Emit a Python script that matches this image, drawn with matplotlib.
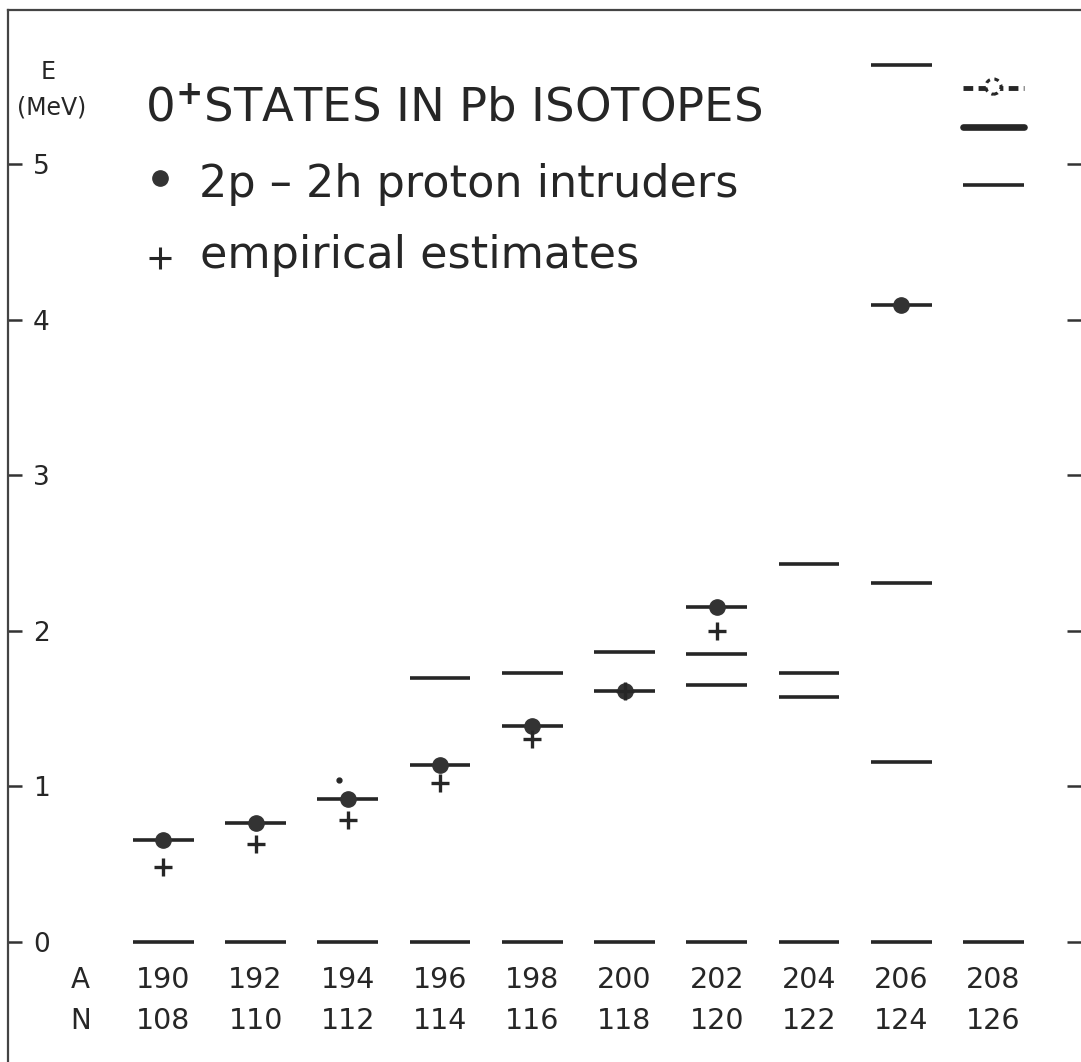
import matplotlib.pyplot as plt

# isotopes
mass_A = [190, 192, 194, 196, 198, 200, 202, 204, 206, 208]
neutron_N = [108, 110, 112, 114, 116, 118, 120, 122, 124, 126]

# known 0+ levels (MeV)
level_A = [190, 190, 192, 192, 194, 194, 196, 196, 196, 198, 198, 198,
           200, 200, 200, 202, 202, 202, 202, 204, 204, 204, 204,
           206, 206, 206, 206, 206, 208, 208]
level_E = [0.0, 0.656, 0.0, 0.765, 0.0, 0.919, 0.0, 1.138, 1.697, 0.0, 1.388, 1.729,
           0.0, 1.613, 1.864, 0.0, 1.652, 1.851, 2.153, 0.0, 1.575, 1.729, 2.429,
           0.0, 1.157, 2.307, 4.094, 5.636, 0.0, 4.865]
strong_A = [208]
strong_E = [5.238]
tentative_A = [208]
tentative_E = [5.488]

# 2p-2h proton intruders
intruder_A = [190, 192, 194, 196, 198, 200, 202, 206]
intruder_E = [0.656, 0.765, 0.919, 1.138, 1.388, 1.613, 2.153, 4.094]

# empirical estimates
estimate_A = [190, 192, 194, 196, 198, 200, 202]
estimate_E = [0.482, 0.630, 0.784, 1.022, 1.305, 1.613, 1.999]

speck_A = [193.8]
speck_E = [1.04]

yticks = [0, 1, 2, 3, 4, 5]

ink = '#262626'
plt.rcParams['mathtext.fontset'] = 'dejavusans'

W, H = 1081, 1062
fig = plt.figure(figsize=(W / 100, H / 100), dpi=100)
ax = fig.add_axes([8 / W, 0, (W - 8) / W, 1052 / H])
ax.set_xlim(186.63, 209.9)
ax.set_ylim(-0.771, 5.99)

half = 0.66
ax.hlines(level_E, [a - half for a in level_A], [a + half for a in level_A],
          color=ink, lw=2.6)
ax.hlines(strong_E, [a - half for a in strong_A], [a + half for a in strong_A],
          color=ink, lw=4.8, capstyle='round')
ax.hlines(tentative_E, [a - half for a in tentative_A], [a + half for a in tentative_A],
          color=ink, lw=3.5, linestyles=(0, (2.0, 1.1)))
ax.scatter(tentative_A, [e + 0.01 for e in tentative_E], s=120, facecolors='white',
           edgecolors=ink, linewidths=2.2, linestyle=(0, (1.5, 1.5)), zorder=3)

ax.plot(intruder_A, intruder_E, 'o', color='#333333', ms=11, zorder=4)
ax.plot(estimate_A, estimate_E, '+', color=ink, ms=13, mew=2.4, zorder=4)
ax.plot(speck_A, speck_E, 'o', color=ink, ms=3.5)

# axes frame and ticks
for side in ['bottom', 'right']:
    ax.spines[side].set_visible(False)
for side in ['left', 'top']:
    ax.spines[side].set_color('#444444')
    ax.spines[side].set_linewidth(1.6)
ax.set_xticks([])
ax.set_yticks(yticks)
ax.set_yticklabels([str(t) for t in yticks], fontsize=19, color=ink)
ax.tick_params(axis='y', direction='in', length=10, width=1.8, color='#333333',
               right=True, pad=-18)
for lab in ax.get_yticklabels():
    lab.set_ha('left')

# A and N rows
ax.text(188.2, -0.244, 'A', fontsize=20, color=ink, ha='center', va='center')
ax.text(188.2, -0.508, 'N', fontsize=20, color=ink, ha='center', va='center')
for a, n in zip(mass_A, neutron_N):
    ax.text(a, -0.244, str(a), fontsize=20.5, color=ink, ha='center', va='center')
    ax.text(a, -0.508, str(n), fontsize=20.5, color=ink, ha='center', va='center')


def px(x, y):
    return x / W, 1 - y / H


fig.text(*px(48, 72), 'E', fontsize=17, color=ink, ha='center', va='center')
fig.text(*px(52, 107), '(MeV)', fontsize=17, color=ink, ha='center', va='center')

fig.text(*px(145, 122), r'0$^{\mathbf{+}}$STATES IN Pb ISOTOPES', fontsize=33.5,
         color=ink, ha='left', va='baseline')

fig.text(*px(199, 197), '2p – 2h proton intruders', fontsize=32, color=ink,
         ha='left', va='baseline')
fig.text(*px(200, 268), 'empirical estimates', fontsize=32, color=ink,
         ha='left', va='baseline')
fig.lines.append(plt.Line2D([160 / W], [1 - 178 / H], marker='o', ms=11, color='#333333',
                            transform=fig.transFigure, figure=fig))
fig.lines.append(plt.Line2D([160 / W], [1 - 258 / H], marker='+', ms=16, mew=2.2, color=ink,
                            transform=fig.transFigure, figure=fig))

fig.savefig('out.png', dpi=100)
